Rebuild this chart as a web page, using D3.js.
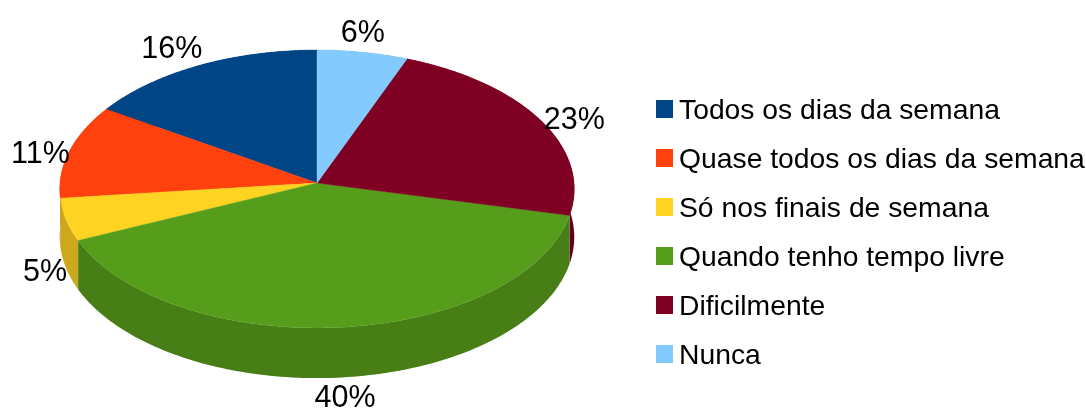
<!DOCTYPE html>
<html>
<head>
<meta charset="utf-8">
<script src="https://cdn.jsdelivr.net/npm/d3@7"></script>
<style>
html,body{margin:0;padding:0;background:#fff;overflow:hidden}
text{font-family:"Liberation Sans",Arial,sans-serif;fill:#000}
</style>
</head>
<body>
<svg id="chart" width="1086" height="410" xmlns="http://www.w3.org/2000/svg"></svg>
<script>
const categories = ["Todos os dias da semana","Quase todos os dias da semana","Só nos finais de semana","Quando tenho tempo livre","Dificilmente","Nunca"];
const values = [16,11,5,40,23,6];
const colors = ["#004586","#ff420e","#ffd320","#579d1c","#7e0021","#83caff"];

// layout
const layout = {cx:317, cy:183, A:257, B:138.7, k:0.043, depth:48};
const labelNudge = [[-27,-8],[-29,12],[-21,61],[3,80],[34,9],[0,-10]];
const legend = {swatchX:656, textX:679, size:18, top:109, step:49};

const svg = d3.select("#chart");
const defs = svg.append("defs");
defs.append("filter").attr("id","soft").attr("x","-2%").attr("y","-2%").attr("width","104%").attr("height","104%")
  .append("feGaussianBlur").attr("stdDeviation",0.6);
const root = svg.append("g").attr("filter","url(#soft)");
root.append("rect").attr("width",1086).attr("height",410).attr("fill","#fff");

// tilted disc: a circle seen through a perspective projection
function project(theta, r=1){
  const u=r*Math.sin(theta), v=r*Math.cos(theta), w=1+layout.k*v;
  return [layout.cx+layout.A*u/w, layout.cy-layout.B*v/w, layout.depth/w];
}
const pie = d3.pie().sort(null).startAngle(2*Math.PI).endAngle(0);
const arcs = pie(values).map((d,i)=>({...d,i,a0:d.endAngle,a1:d.startAngle,mid:(d.startAngle+d.endAngle)/2}));
const line = d3.line();
const arcAngles = d=>d3.range(0,121).map(j=>d.a0+(d.a1-d.a0)*j/120);

// side walls, far ones first
const darken = c=>{const r=d3.rgb(c);return d3.rgb(r.r*.8,r.g*.8,r.b*.8).formatHex();};
const wallOrder = arcs.slice().sort((a,b)=>Math.cos(b.mid)-Math.cos(a.mid));
root.append("g").selectAll("path").data(wallOrder).join("path")
  .attr("fill",d=>darken(colors[d.i]))
  .attr("d",d=>{
    const t=arcAngles(d).map(a=>project(a));
    const top=t.map(p=>[p[0],p[1]]);
    const bot=t.slice().reverse().map(p=>[p[0],p[1]+p[2]]);
    return line(top.concat(bot))+"Z";
  });

// top surface
root.append("g").selectAll("path").data(arcs).join("path")
  .attr("fill",d=>colors[d.i])
  .attr("stroke",d=>colors[d.i]).attr("stroke-width",0.4)
  .attr("d",d=>{
    const pts=arcAngles(d).map(a=>project(a).slice(0,2));
    return line([[layout.cx,layout.cy],...pts])+"Z";
  });

// percentage labels
root.append("g").selectAll("text").data(arcs).join("text")
  .attr("text-anchor","middle").attr("font-size",30.5)
  .attr("x",d=>project(d.mid)[0]+labelNudge[d.i][0])
  .attr("y",d=>project(d.mid)[1]+labelNudge[d.i][1])
  .text(d=>values[d.i]+"%");

// legend
const y = d3.scalePoint().domain(categories).range([legend.top,legend.top+legend.step*(categories.length-1)]);
const items = root.append("g").selectAll("g").data(categories).join("g");
items.append("rect").attr("x",legend.swatchX).attr("y",d=>y(d)-legend.size/2)
  .attr("width",17).attr("height",legend.size).attr("fill",(d,i)=>colors[i]);
items.append("text").attr("x",legend.textX).attr("y",d=>y(d)+10).attr("font-size",28.3).text(d=>d);
</script>
</body>
</html>
